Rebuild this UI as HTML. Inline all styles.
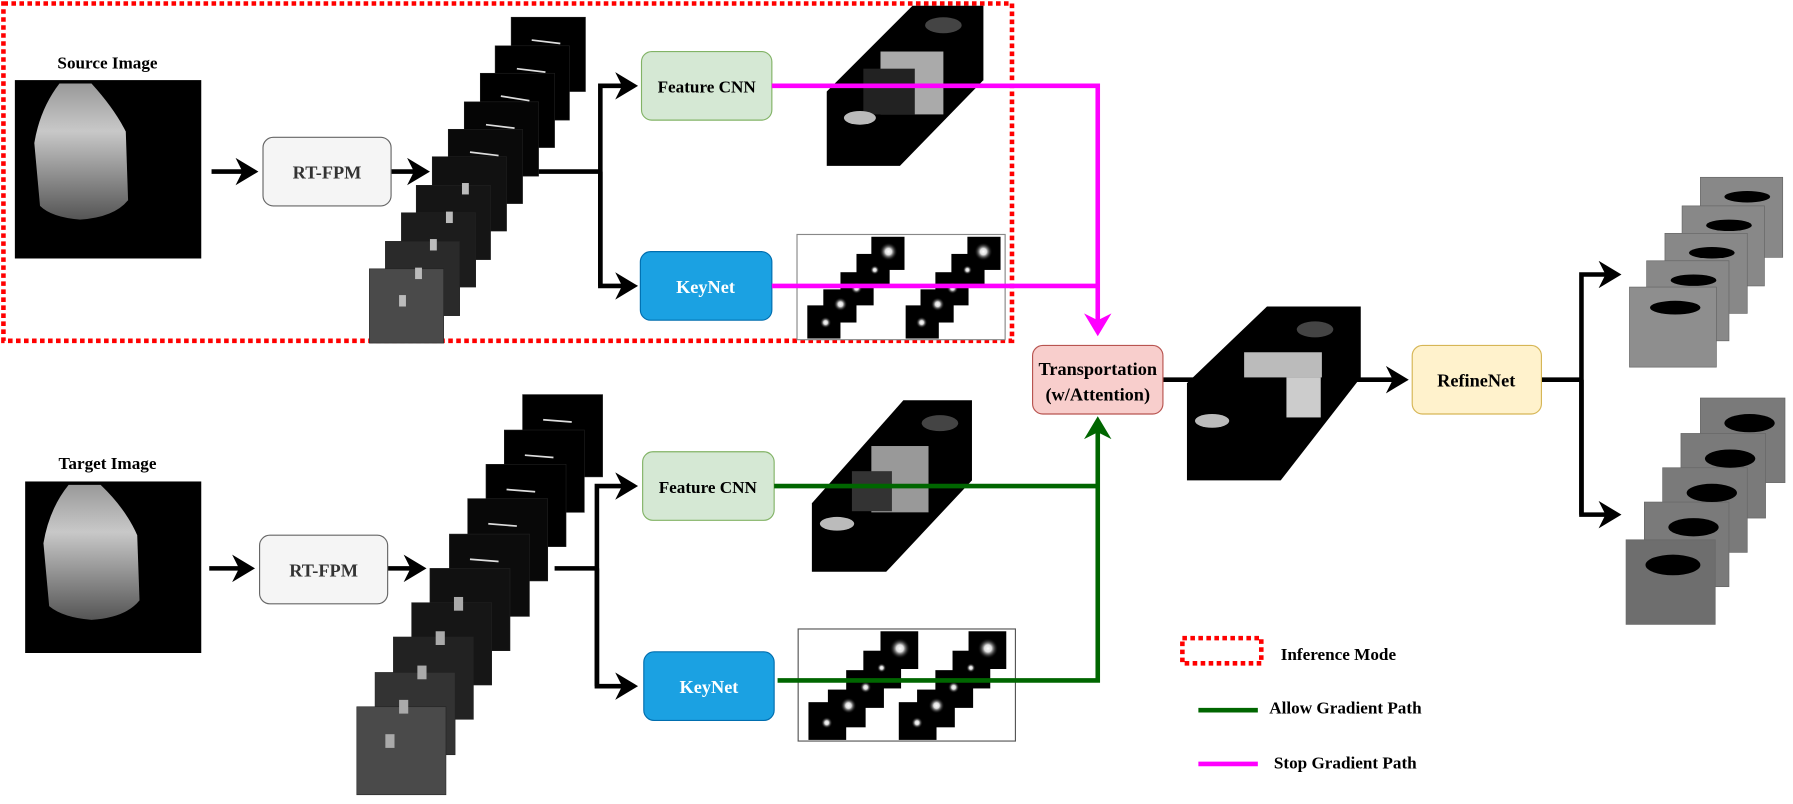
<!DOCTYPE html>
<html><head><meta charset="utf-8"><style>html,body{margin:0;padding:0;background:#fff}svg{display:block}svg text{font-family:"Liberation Serif","DejaVu Serif",serif !important;font-weight:bold}</style></head>
<body>
<svg width="1793" height="804" viewBox="0 0 1568 703" xmlns="http://www.w3.org/2000/svg" font-family="Liberation Serif, serif">
<defs>
<radialGradient id="blob"><stop offset="0" stop-color="#fff"/><stop offset="0.35" stop-color="#ddd"/><stop offset="1" stop-color="#000" stop-opacity="0"/></radialGradient>
<linearGradient id="fan" x1="0" y1="0" x2="0" y2="1"><stop offset="0" stop-color="#999"/><stop offset="0.35" stop-color="#c8c8c8"/><stop offset="1" stop-color="#555"/></linearGradient>
<marker id="ah" markerWidth="6" markerHeight="6" refX="4" refY="3" orient="auto" markerUnits="strokeWidth"><path d="M0,0 L5,3 L0,6 L1.5,3 z" fill="#000"/></marker>
<marker id="am" markerWidth="6" markerHeight="6" refX="4" refY="3" orient="auto" markerUnits="strokeWidth"><path d="M0,0 L5,3 L0,6 L1.5,3 z" fill="#f0f"/></marker>
<marker id="ag" markerWidth="6" markerHeight="6" refX="4" refY="3" orient="auto" markerUnits="strokeWidth"><path d="M0,0 L5,3 L0,6 L1.5,3 z" fill="#060"/></marker>
</defs>

<rect x="3" y="3" width="882" height="295" fill="none" stroke="#f00" stroke-width="4" stroke-dasharray="4,3"/>

<text x="94" y="60" font-size="15" text-anchor="middle">Source Image</text>
<rect x="13" y="70" width="163" height="156" fill="#000"/>
<path d="M52,73 L80,73 Q100,95 110,115 L112,175 Q100,190 70,192 Q45,190 35,180 L30,125 Q35,95 52,73 z" fill="url(#fan)"/>
<text x="94" y="410" font-size="15" text-anchor="middle">Target Image</text>
<rect x="22" y="421" width="154" height="150" fill="#000"/>
<path d="M60,424 L88,424 Q110,445 120,468 L122,525 Q110,540 80,542 Q55,540 43,530 L38,475 Q43,445 60,424 z" fill="url(#fan)"/>

<g stroke="#000" stroke-width="4" fill="none">
<line x1="185" y1="150" x2="222" y2="150" marker-end="url(#ah)"/>
<line x1="342" y1="150" x2="372" y2="150" marker-end="url(#ah)"/>
<line x1="183" y1="497" x2="219" y2="497" marker-end="url(#ah)"/>
<line x1="339" y1="497" x2="369" y2="497" marker-end="url(#ah)"/>
<polyline points="460,150 525,150"/>
<polyline points="525,250 525,75 554,75" marker-end="url(#ah)"/>
<polyline points="525,150 525,250 554,250" marker-end="url(#ah)"/>
<polyline points="485,497 522,497"/>
<polyline points="522,600 522,425 554,425" marker-end="url(#ah)"/>
<polyline points="522,497 522,600 554,600" marker-end="url(#ah)"/>
<line x1="1017" y1="332" x2="1228" y2="332" marker-end="url(#ah)"/>
<polyline points="1348,332 1383,332"/>
<polyline points="1383,450 1383,240 1414,240" marker-end="url(#ah)"/>
<polyline points="1383,332 1383,450 1414,450" marker-end="url(#ah)"/>
</g>

<rect x="230" y="120" width="112" height="60" rx="9" fill="#f5f5f5" stroke="#666"/>
<text x="286" y="156" font-size="16" text-anchor="middle" fill="#333">RT-FPM</text>
<rect x="227" y="468" width="112" height="60" rx="9" fill="#f5f5f5" stroke="#666"/>
<text x="283" y="504" font-size="16" text-anchor="middle" fill="#333">RT-FPM</text>

<g stroke="#222" stroke-width="0.5">
<rect x="447" y="15" width="65" height="65" fill="#000"/>
<rect x="433" y="40" width="65" height="65" fill="#000"/>
<rect x="420" y="64" width="65" height="65" fill="#000"/>
<rect x="406" y="89" width="65" height="65" fill="#050505"/>
<rect x="392" y="113" width="65" height="65" fill="#0a0a0a"/>
<rect x="378" y="137" width="65" height="65" fill="#111"/>
<rect x="364" y="162" width="65" height="65" fill="#151515"/>
<rect x="351" y="186" width="65" height="65" fill="#1c1c1c"/>
<rect x="337" y="211" width="65" height="65" fill="#2a2a2a"/>
<rect x="323" y="235" width="65" height="65" fill="#4a4a4a"/>
</g>
<g stroke="#ddd" stroke-width="1.5">
<line x1="465" y1="35" x2="490" y2="38"/><line x1="452" y1="60" x2="477" y2="63"/><line x1="438" y1="84" x2="463" y2="88"/><line x1="425" y1="109" x2="450" y2="112"/><line x1="411" y1="133" x2="436" y2="136"/>
</g>
<g fill="#bbb"><rect x="404" y="160" width="6" height="10"/><rect x="390" y="185" width="6" height="10"/><rect x="376" y="209" width="6" height="10"/><rect x="363" y="234" width="6" height="10"/><rect x="349" y="258" width="6" height="10"/></g>

<g stroke="#222" stroke-width="0.5">
<rect x="457" y="345" width="70" height="72" fill="#000"/>
<rect x="441" y="376" width="70" height="72" fill="#000"/>
<rect x="425" y="406" width="70" height="72" fill="#000"/>
<rect x="409" y="436" width="70" height="72" fill="#080808"/>
<rect x="393" y="467" width="70" height="72" fill="#0c0c0c"/>
<rect x="376" y="497" width="70" height="72" fill="#111"/>
<rect x="360" y="527" width="70" height="72" fill="#161616"/>
<rect x="344" y="557" width="70" height="72" fill="#222"/>
<rect x="328" y="588" width="70" height="72" fill="#333"/>
<rect x="312" y="618" width="78" height="77" fill="#4a4a4a"/>
</g>
<g stroke="#ddd" stroke-width="1.5">
<line x1="475" y1="367" x2="500" y2="369"/><line x1="459" y1="398" x2="484" y2="400"/><line x1="443" y1="428" x2="468" y2="430"/><line x1="427" y1="458" x2="452" y2="460"/><line x1="411" y1="489" x2="436" y2="491"/>
</g>
<g fill="#aaa"><rect x="397" y="522" width="8" height="12"/><rect x="381" y="552" width="8" height="12"/><rect x="365" y="582" width="8" height="12"/><rect x="349" y="612" width="8" height="12"/><rect x="337" y="642" width="8" height="12"/></g>

<rect x="561" y="45" width="114" height="60" rx="9" fill="#d5e8d4" stroke="#82b366"/>
<text x="618" y="81" font-size="15" text-anchor="middle">Feature CNN</text>
<rect x="560" y="220" width="115" height="60" rx="9" fill="#1ba1e2" stroke="#006eaf"/>
<text x="617" y="256" font-size="16" text-anchor="middle" fill="#fff">KeyNet</text>
<rect x="562" y="395" width="115" height="60" rx="9" fill="#d5e8d4" stroke="#82b366"/>
<text x="619" y="431" font-size="15" text-anchor="middle">Feature CNN</text>
<rect x="563" y="570" width="114" height="60" rx="9" fill="#1ba1e2" stroke="#006eaf"/>
<text x="620" y="606" font-size="16" text-anchor="middle" fill="#fff">KeyNet</text>

<polygon points="723,80 798,5 860,5 860,70 787,145 723,145" fill="#000"/>
<rect x="770" y="45" width="55" height="55" fill="#aaa"/>
<rect x="755" y="60" width="45" height="40" fill="#222"/>
<ellipse cx="752" cy="103" rx="14" ry="6" fill="#bbb"/>
<ellipse cx="825" cy="22" rx="16" ry="7" fill="#444"/>
<polygon points="710,440 790,350 850,350 850,420 775,500 710,500" fill="#000"/>
<rect x="762" y="390" width="50" height="58" fill="#999"/>
<rect x="745" y="412" width="35" height="35" fill="#333"/>
<ellipse cx="732" cy="458" rx="15" ry="6" fill="#bbb"/>
<ellipse cx="822" cy="370" rx="16" ry="7" fill="#444"/>

<rect x="697" y="205" width="182" height="92" fill="#fff" stroke="#888"/>
<g fill="#000">
<rect x="762" y="207" width="29" height="29"/><rect x="749" y="222" width="29" height="29"/><rect x="735" y="238" width="29" height="29"/><rect x="720" y="253" width="29" height="29"/><rect x="706" y="267" width="29" height="29"/>
<rect x="846" y="207" width="29" height="29"/><rect x="832" y="222" width="29" height="29"/><rect x="818" y="238" width="29" height="29"/><rect x="805" y="253" width="29" height="29"/><rect x="792" y="267" width="29" height="29"/>
</g>
<g fill="url(#blob)">
<circle cx="777" cy="220" r="8"/><circle cx="765" cy="236" r="4"/><circle cx="749" cy="252" r="5"/><circle cx="735" cy="266" r="6"/><circle cx="722" cy="282" r="5"/>
<circle cx="860" cy="220" r="8"/><circle cx="846" cy="236" r="4"/><circle cx="833" cy="252" r="5"/><circle cx="820" cy="266" r="6"/><circle cx="806" cy="282" r="5"/>
</g>
<rect x="698" y="550" width="190" height="98" fill="#fff" stroke="#555"/>
<g fill="#000">
<rect x="770" y="552" width="33" height="33"/><rect x="755" y="569" width="33" height="33"/><rect x="740" y="586" width="33" height="33"/><rect x="724" y="603" width="33" height="33"/><rect x="707" y="614" width="33" height="33"/>
<rect x="847" y="552" width="33" height="33"/><rect x="833" y="569" width="33" height="33"/><rect x="818" y="586" width="33" height="33"/><rect x="802" y="603" width="33" height="33"/><rect x="786" y="614" width="33" height="33"/>
</g>
<g fill="url(#blob)">
<circle cx="787" cy="567" r="9"/><circle cx="771" cy="584" r="4"/><circle cx="757" cy="601" r="5"/><circle cx="742" cy="617" r="7"/><circle cx="723" cy="632" r="5"/>
<circle cx="864" cy="567" r="9"/><circle cx="849" cy="584" r="4"/><circle cx="834" cy="601" r="5"/><circle cx="819" cy="617" r="7"/><circle cx="802" cy="632" r="5"/>
</g>

<g fill="none" stroke-width="4">
<polyline points="675,75 960,75 960,290" stroke="#f0f" marker-end="url(#am)"/>
<polyline points="675,250 960,250" stroke="#f0f"/>
<polyline points="677,425 960,425" stroke="#060"/>
<polyline points="680,595 960,595 960,368" stroke="#060" marker-end="url(#ag)"/>
</g>

<rect x="903" y="302" width="114" height="60" rx="9" fill="#f8cecc" stroke="#b85450"/>
<text x="960" y="328" font-size="16" text-anchor="middle">Transportation</text>
<text x="960" y="350" font-size="16" text-anchor="middle">(w/Attention)</text>

<polygon points="1038,335 1108,268 1190,268 1190,330 1120,420 1038,420" fill="#000"/>
<rect x="1088" y="308" width="68" height="22" fill="#bbb"/>
<rect x="1125" y="330" width="30" height="35" fill="#ccc"/>
<ellipse cx="1060" cy="368" rx="15" ry="6" fill="#bbb"/>
<ellipse cx="1150" cy="288" rx="16" ry="7" fill="#444"/>

<rect x="1235" y="302" width="113" height="60" rx="9" fill="#fff2cc" stroke="#d6b656"/>
<text x="1291" y="338" font-size="16" text-anchor="middle">RefineNet</text>

<g stroke="#666" stroke-width="0.6">
<rect x="1487" y="155" width="72" height="70" fill="#888"/>
<rect x="1471" y="180" width="72" height="70" fill="#888"/>
<rect x="1456" y="204" width="72" height="70" fill="#888"/>
<rect x="1440" y="228" width="72" height="70" fill="#888"/>
<rect x="1425" y="251" width="76" height="70" fill="#8e8e8e"/>
<rect x="1487" y="348" width="74" height="74" fill="#7a7a7a"/>
<rect x="1470" y="379" width="74" height="74" fill="#7a7a7a"/>
<rect x="1454" y="409" width="74" height="74" fill="#7a7a7a"/>
<rect x="1438" y="439" width="74" height="74" fill="#7a7a7a"/>
<rect x="1422" y="472" width="78" height="74" fill="#6e6e6e"/>
</g>
<g fill="#000">
<ellipse cx="1528" cy="172" rx="20" ry="5"/><ellipse cx="1512" cy="197" rx="20" ry="5"/><ellipse cx="1497" cy="221" rx="20" ry="5"/><ellipse cx="1481" cy="245" rx="20" ry="5"/><ellipse cx="1465" cy="269" rx="22" ry="6"/>
<ellipse cx="1530" cy="370" rx="22" ry="8"/><ellipse cx="1513" cy="401" rx="22" ry="8"/><ellipse cx="1497" cy="431" rx="22" ry="8"/><ellipse cx="1481" cy="461" rx="22" ry="8"/><ellipse cx="1463" cy="494" rx="24" ry="9"/>
</g>

<rect x="1034" y="558" width="69" height="22" fill="none" stroke="#f00" stroke-width="4" stroke-dasharray="4,3"/>
<text x="1120" y="577" font-size="15">Inference Mode</text>
<line x1="1048" y1="621" x2="1100" y2="621" stroke="#060" stroke-width="4"/>
<text x="1110" y="624" font-size="15">Allow Gradient Path</text>
<line x1="1048" y1="668" x2="1100" y2="668" stroke="#f0f" stroke-width="4"/>
<text x="1114" y="672" font-size="15">Stop Gradient Path</text>
</svg>
</body></html>
